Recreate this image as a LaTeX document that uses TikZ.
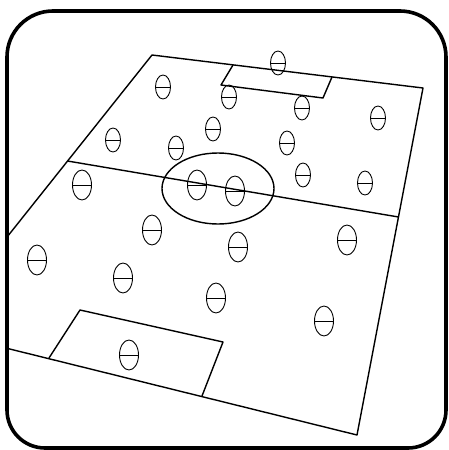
\documentclass[tikz,border=0pt]{standalone}
\usetikzlibrary{shapes.geometric,positioning}
\tikzset{
  border/.style={line width=3.6pt,line join=round},
  pitchline/.style={line width=1.4pt,line join=round},
  player/.style={ellipse,draw,line width=0.9pt,inner sep=0pt,
    path picture={\draw[line width=0.9pt] (path picture bounding box.west) -- (path picture bounding box.east);}},
  farplayer/.style={player,minimum width=15pt,minimum height=24pt},
  nearplayer/.style={player,minimum width=19pt,minimum height=30pt}
}
\newcommand{\framepath}{(7,230) [rounded corners=46pt] -- (7,11) -- (446,11) -- (446,230)
  [rounded corners=38pt] -- (446,448) -- (7,448) -- cycle}
\begin{document}
\begin{tikzpicture}[x=1pt,y=-1pt]
  \useasboundingbox (0,0) rectangle (449,450);
  % corners of the pitch, seen in perspective
  \coordinate (tl) at (152,55);
  \coordinate (tr) at (423,88);
  \coordinate (br) at (357,435);
  \coordinate (bl) at (-67,330);
  \coordinate (ml) at (67.5,161);
  \coordinate (mr) at (398.5,217);
  \begin{scope}
    \clip \framepath;
    % outline, halfway line and centre circle
    \draw[pitchline] (tl) -- (tr) -- (br) -- (bl) -- cycle;
    \draw[pitchline] (ml) -- (mr);
    \draw[pitchline] (218,188.5) ellipse (56 and 35.5);
    % penalty boxes
    \draw[pitchline] (233,65) -- (221,85) -- (323,98) -- (332,77);
    \draw[pitchline] (49,358) -- (80,310) -- (223,342) -- (202,396);
  \end{scope}
  % players in the far half are drawn smaller
  \foreach \px/\py/\n in {163/87/1,113/140/2,176/148/3,213/129/4,229/97/5,
      278/63/6,302/108/7,378/118/8,287/143/9,303/175/10,365/183/11}
    \node[farplayer] (p\n) at (\px,\py) {};
  \foreach \px/\py/\n in {82/185/12,197/185/13,235/191/14,152/230/15,238/247/16,
      347/240/17,37/260/18,123/278/19,216/298/20,129/355/21,324/321/22}
    \node[nearplayer] (p\n) at (\px,\py) {};
  % rounded frame
  \draw[border] \framepath;
\end{tikzpicture}
\end{document}
